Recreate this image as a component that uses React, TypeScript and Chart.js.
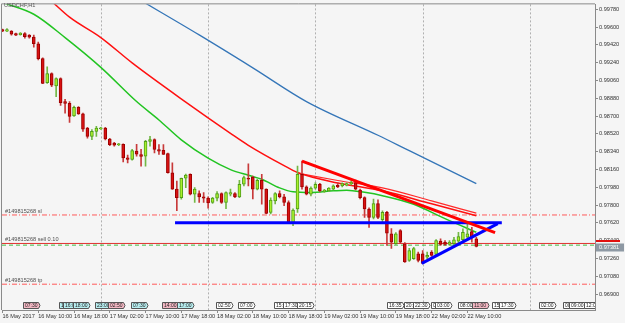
import React, { useEffect, useRef } from 'react';
import { Chart, registerables } from 'chart.js';

Chart.register(...registerables);

// ---- Candles: USDCHF H1, bar 0 = 16 May 2017 02:00 ----
const OPEN = [
  0.99574, 0.99559, 0.99559, 0.99534, 0.99524, 0.99534, 0.99519, 0.99499, 0.99432, 0.99281,
  0.99037, 0.99131, 0.99004, 0.9908, 0.98847, 0.9883, 0.98703, 0.98789, 0.98723, 0.98579,
  0.98495, 0.98545, 0.98571, 0.98579, 0.98468, 0.98428, 0.9841, 0.98415, 0.98278, 0.98262,
  0.98345, 0.98312, 0.98295, 0.98445, 0.98462, 0.98362, 0.98355, 0.98322, 0.98127, 0.97961,
  0.97876, 0.98071, 0.98111, 0.9791, 0.97916, 0.97883, 0.9787, 0.97826, 0.9787, 0.97916,
  0.97826, 0.9791, 0.97916, 0.97883, 0.98011, 0.98071, 0.98084, 0.97961, 0.98051, 0.97961,
  0.97726, 0.97843, 0.97916, 0.97883, 0.97826, 0.97625, 0.9776, 0.98111, 0.97984, 0.9791,
  0.97971, 0.98011, 0.97937, 0.97944, 0.97961, 0.97999, 0.97994, 0.98001, 0.98014, 0.98027,
  0.97951, 0.97876, 0.9776, 0.97676, 0.97816, 0.97653, 0.97726, 0.97509, 0.97409, 0.97542,
  0.97409, 0.97241, 0.97258, 0.97308, 0.97308, 0.97274, 0.97324, 0.97301, 0.97435, 0.97425,
  0.97402, 0.97409, 0.97435, 0.97449, 0.97475, 0.97532, 0.97459,
];
const HIGH = [
  0.99579, 0.99584, 0.99564, 0.99539, 0.99544, 0.99544, 0.99524, 0.99519, 0.99449, 0.99288,
  0.99198, 0.99138, 0.99087, 0.99087, 0.9887, 0.98847, 0.98802, 0.98796, 0.98731, 0.98586,
  0.98563, 0.98596, 0.98586, 0.98586, 0.98475, 0.98435, 0.98425, 0.9842, 0.98305, 0.98365,
  0.98415, 0.98365, 0.98455, 0.98496, 0.9847, 0.98412, 0.98412, 0.98325, 0.98227, 0.98044,
  0.98074, 0.98114, 0.98117, 0.97977, 0.97944, 0.97926, 0.97883, 0.97878, 0.97937, 0.97923,
  0.97933, 0.97961, 0.97926, 0.98051, 0.98094, 0.98217, 0.98094, 0.98064, 0.98111, 0.97964,
  0.97873, 0.97926, 0.97944, 0.9791, 0.97843, 0.97763, 0.98194, 0.98245, 0.97994, 0.97984,
  0.98027, 0.98019, 0.97959, 0.97977, 0.98004, 0.98024, 0.98024, 0.98024, 0.98044, 0.98054,
  0.97961, 0.97883, 0.97773, 0.9786, 0.97853, 0.97743, 0.97736, 0.97562, 0.97522, 0.97552,
  0.97422, 0.97362, 0.97372, 0.97324, 0.97341, 0.97324, 0.97341, 0.97452, 0.97459, 0.97442,
  0.97442, 0.97475, 0.97525, 0.97559, 0.97609, 0.97575, 0.97475,
];
const LOW = [
  0.99554, 0.99554, 0.99519, 0.99514, 0.99519, 0.99489, 0.99489, 0.99398, 0.99268, 0.99027,
  0.9903, 0.98997, 0.98897, 0.98807, 0.98729, 0.98636, 0.98696, 0.98716, 0.98546, 0.98478,
  0.98462, 0.98495, 0.98566, 0.9846, 0.984, 0.98395, 0.984, 0.98237, 0.98227, 0.98255,
  0.98295, 0.98194, 0.98194, 0.98395, 0.98328, 0.98312, 0.98312, 0.98124, 0.97959, 0.97743,
  0.9786, 0.97977, 0.97903, 0.97826, 0.97826, 0.97826, 0.9777, 0.97818, 0.97843, 0.97818,
  0.97763, 0.97893, 0.97876, 0.97876, 0.97994, 0.97994, 0.97863, 0.97954, 0.9781, 0.97713,
  0.9771, 0.97813, 0.97873, 0.97793, 0.97622, 0.97592, 0.97726, 0.97961, 0.97903, 0.97893,
  0.97961, 0.97933, 0.97928, 0.97937, 0.97954, 0.97977, 0.97984, 0.97994, 0.98004, 0.97954,
  0.97863, 0.97676, 0.97575, 0.97659, 0.97662, 0.97612, 0.97392, 0.97362, 0.97402, 0.97412,
  0.97221, 0.97231, 0.97251, 0.97224, 0.97208, 0.97258, 0.97281, 0.97291, 0.97392, 0.97392,
  0.97392, 0.97392, 0.97409, 0.97425, 0.97467, 0.97425, 0.97376,
];
const CLOSE = [
  0.99559, 0.99574, 0.99529, 0.99519, 0.99539, 0.99504, 0.99499, 0.99432, 0.99281, 0.9903,
  0.99131, 0.99014, 0.9908, 0.98837, 0.98827, 0.98696, 0.98789, 0.98723, 0.98569, 0.98495,
  0.98545, 0.98579, 0.98581, 0.98468, 0.98412, 0.98405, 0.9842, 0.98278, 0.98262, 0.98352,
  0.98315, 0.98292, 0.98445, 0.98462, 0.98362, 0.98345, 0.98312, 0.98127, 0.97961, 0.97876,
  0.98071, 0.98104, 0.9791, 0.97961, 0.97883, 0.9787, 0.97823, 0.9787, 0.97916, 0.97826,
  0.97926, 0.97926, 0.97883, 0.98011, 0.98077, 0.98061, 0.97961, 0.98051, 0.97961, 0.97716,
  0.9785, 0.97916, 0.97883, 0.97826, 0.97625, 0.9775, 0.98111, 0.97984, 0.9791, 0.97971,
  0.98011, 0.97944, 0.97951, 0.97971, 0.97994, 0.97984, 0.98017, 0.98017, 0.98027, 0.97961,
  0.97876, 0.9776, 0.97676, 0.97816, 0.97676, 0.97726, 0.97517, 0.97425, 0.97509, 0.97425,
  0.97224, 0.97341, 0.97359, 0.97241, 0.97211, 0.97291, 0.97291, 0.97442, 0.97402, 0.97402,
  0.97425, 0.97449, 0.97482, 0.97525, 0.97509, 0.97475, 0.97381,
];

// ---- Moving averages (bar index, price) ----
const MA_GREEN_IDX = [0, 7, 14, 22, 30, 35, 40, 46, 51, 55, 58, 62, 65, 69, 74, 77, 81, 85, 92, 99, 106];
const MA_GREEN_VAL = [0.99849, 0.9973, 0.99494, 0.99193, 0.98847, 0.98661, 0.9846, 0.98275, 0.98159, 0.98101, 0.98061, 0.97974, 0.97934, 0.97927, 0.97944, 0.97951, 0.97929, 0.97895, 0.97809, 0.97663, 0.97525];
const MA_RED_IDX = [11, 15, 22, 29, 41, 51, 55, 63, 66, 75, 85, 96, 106];
const MA_RED_VAL = [0.9986, 0.997, 0.99494, 0.99238, 0.98842, 0.98526, 0.98405, 0.98199, 0.98129, 0.98024, 0.97944, 0.97813, 0.97693];
const MA_RED2_IDX = [66, 75, 85, 96, 106];
const MA_RED2_VAL = [0.98124, 0.98049, 0.97974, 0.97843, 0.97718];
const MA_BLUE_IDX = [31, 44, 56, 68, 84, 91, 106];
const MA_BLUE_VAL = [0.99868, 0.99521, 0.99188, 0.98847, 0.98506, 0.9835, 0.98017];

// ---- Trend lines (bar index, price) ----
const RED_TREND_IDX = [67, 110.2];
const RED_TREND_VAL = [0.98245, 0.97522];
const BLUE_H_IDX = [38.6, 111.7];
const BLUE_H_VAL = [0.97622, 0.97622];
const BLUE_UP_IDX = [93.8, 110.8];
const BLUE_UP_VAL = [0.97211, 0.97612];

// ---- Order levels ----
const SL_LEVEL = 0.977;
const SELL_LEVEL = 0.97412;
const ASK_LEVEL = 0.97395;
const TP_LEVEL = 0.97;
const BID = 0.97381;
const ORDER_LEVELS = [SL_LEVEL, SELL_LEVEL, TP_LEVEL];
const ORDER_TEXT = ['#149815268 sl', '#149815268 sell 0.10', '#149815268 tp'];

// ---- Axes ----
const PRICE_TICKS = [0.969, 0.9708, 0.9726, 0.9744, 0.9762, 0.978, 0.9798, 0.9816, 0.9834, 0.9852, 0.987, 0.9888, 0.9906, 0.9924, 0.9942, 0.996, 0.9978];
const TIME_TICK_IDX = [0, 8, 16, 24, 32, 40, 48, 56, 64, 72, 80, 88, 96, 104];
const TIME_TICK_LABELS = [
  '16 May 2017', '16 May 10:00', '16 May 18:00', '17 May 02:00', '17 May 10:00', '17 May 18:00',
  '18 May 02:00', '18 May 10:00', '18 May 18:00', '19 May 02:00', '19 May 10:00', '19 May 18:00',
  '22 May 02:00', '22 May 10:00',
];
const DAY_SEP_IDX = [22, 46, 70, 94, 118];

// ---- Calendar event markers ----
const EVENT_IDX = [4.59, 12.64, 13.53, 15.77, 20.69, 23.6, 28.75, 35.68, 39.04, 47.76, 52.68, 60.74, 62.75, 65.88, 86.02, 89.82, 91.83, 95.86, 96.76, 101.9, 105.03, 109.51, 111.07, 120.02, 125.39, 126.73, 130.09];
const EVENT_TEXT = ['07:30', '15:30', '16:00', '18:00', '23:00', '02:50', '07:30', '14:00', '17:00', '02:50', '07:00', '15:30', '17:30', '20:15', '16:35', '20:00', '22:30', '00:00', '03:00', '08:00', '11:00', '15:30', '17:30', '02:00', '00:00', '09:00', '12:00'];
const EVENT_KIND = ['p', 'c', 'c', 'c', 'c', 'p', 'c', 'p', 'c', 'w', 'w', 'w', 'w', 'w', 'w', 'w', 'w', 'w', 'w', 'w', 'p', 'w', 'w', 'w', 'w', 'w', 'w'];

const X_MIN = -0.112;
const X_MAX = 132.55;
const Y_MIN = 0.96739;
const Y_MAX = 0.9983;
const BG = '#f5f5f5';
const FONT = 'Liberation Sans, Arial, sans-serif';

export default function App() {
  const ref = useRef<HTMLCanvasElement>(null);

  useEffect(() => {
    document.body.style.margin = '0';
    const canvas = ref.current;
    if (!canvas) return;

    const bull = OPEN.map((o, i) => CLOSE[i] >= o);
    const wickBull = OPEN.map((_, i) => (bull[i] ? { x: i, y: [LOW[i], HIGH[i]] } : null)).filter(Boolean);
    const wickBear = OPEN.map((_, i) => (!bull[i] ? { x: i, y: [LOW[i], HIGH[i]] } : null)).filter(Boolean);
    const bodies = OPEN.map((o, i) => ({ x: i, y: [o, CLOSE[i]] }));
    const pts = (xs: number[], ys: number[]) => xs.map((x, k) => ({ x, y: ys[k] }));
    const hline = (v: number) => [{ x: X_MIN, y: v }, { x: X_MAX, y: v }];
    const line = (data: any[], color: string, width: number, order: number, extra: any = {}) => ({
      type: 'line', data, borderColor: color, borderWidth: width, pointRadius: 0, fill: false,
      tension: 0, order, ...extra,
    });

    const overlay = {
      id: 'overlay',
      beforeDraw(chart: any) {
        const { ctx, width, height } = chart;
        ctx.save();
        ctx.fillStyle = BG;
        ctx.fillRect(0, 0, width, height);
        ctx.restore();
      },
      beforeDatasetsDraw(chart: any) {
        const { ctx, chartArea: a, scales } = chart;
        ctx.save();
        ctx.strokeStyle = '#b0b0b0';
        ctx.lineWidth = 1;
        ctx.setLineDash([2, 2]);
        for (const s of DAY_SEP_IDX) {
          const px = Math.round(scales.x.getPixelForValue(s)) + 0.5;
          ctx.beginPath();
          ctx.moveTo(px, a.top);
          ctx.lineTo(px, a.bottom);
          ctx.stroke();
        }
        ctx.restore();
      },
      afterDraw(chart: any) {
        const { ctx, chartArea: a, scales } = chart;
        const ys = scales.y;
        const xs = scales.x;
        ctx.save();
        ctx.strokeStyle = '#8a8a8a';
        ctx.lineWidth = 1;
        ctx.beginPath();
        ctx.moveTo(a.left - 0.5, a.bottom);
        ctx.lineTo(a.left - 0.5, a.top - 0.5);
        ctx.lineTo(a.right, a.top - 0.5);
        ctx.stroke();

        ctx.fillStyle = '#555';
        ctx.font = `5.6px ${FONT}`;
        ctx.textBaseline = 'top';
        ctx.textAlign = 'left';
        ctx.fillText('USDCHF,H1', 4, 3);

        ctx.fillStyle = '#505050';
        ctx.textBaseline = 'bottom';
        ORDER_LEVELS.forEach((lv, k) => {
          ctx.fillText(ORDER_TEXT[k], 5, Math.round(ys.getPixelForValue(lv)) - 0.5);
        });

        ctx.save();
        ctx.beginPath();
        ctx.rect(a.left, a.top, a.right - a.left, a.bottom - a.top);
        ctx.clip();
        ctx.font = `5px ${FONT}`;
        ctx.textBaseline = 'middle';
        const top = a.bottom - 7.5;
        const bot = a.bottom - 1.5;
        EVENT_IDX.forEach((ix, k) => {
          const x0 = Math.round(xs.getPixelForValue(ix)) + 0.5;
          const tw = ctx.measureText(EVENT_TEXT[k]).width;
          const w = Math.ceil(tw) + 2;
          ctx.beginPath();
          ctx.moveTo(x0, top);
          ctx.lineTo(x0 + w, top);
          ctx.quadraticCurveTo(x0 + w + 3, (top + bot) / 2, x0 + w, bot);
          ctx.lineTo(x0, bot);
          ctx.closePath();
          ctx.fillStyle = EVENT_KIND[k] === 'p' ? '#f4b8c4' : EVENT_KIND[k] === 'c' ? '#b8eef0' : '#ffffff';
          ctx.fill();
          ctx.strokeStyle = '#555';
          ctx.stroke();
          ctx.fillStyle = '#222';
          ctx.fillText(EVENT_TEXT[k], x0 + 1.5, (top + bot) / 2 + 0.5);
        });
        ctx.restore();

        const yr = ys.getPixelForValue(0.97437);
        ctx.fillStyle = '#e01010';
        ctx.fillRect(a.right + 1, Math.round(yr) - 1, 24, 2);
        const yb = Math.round(ys.getPixelForValue(BID));
        ctx.fillStyle = '#8e99a4';
        ctx.fillRect(a.right + 1, yb - 3.5, 28, 8);
        ctx.fillStyle = '#ffffff';
        ctx.font = `5.6px ${FONT}`;
        ctx.textBaseline = 'middle';
        ctx.fillText(BID.toFixed(5), a.right + 4, yb + 0.5);
        ctx.restore();
      },
    };

    const chart = new Chart(canvas, {
      type: 'bar',
      data: {
        datasets: [
          line(pts(RED_TREND_IDX, RED_TREND_VAL), '#ff0000', 3, 0),
          line(pts(BLUE_H_IDX, BLUE_H_VAL), '#0000ff', 3, 0),
          line(pts(BLUE_UP_IDX, BLUE_UP_VAL), '#0000ff', 3, 0),
          {
            type: 'bar', data: bodies, order: 1, grouped: false, barThickness: 3,
            minBarLength: 1, borderSkipped: false, borderWidth: 1,
            backgroundColor: bull.map((b) => (b ? '#a8f02c' : '#d81212')),
            borderColor: bull.map((b) => (b ? '#4f9c18' : '#9c0000')),
          },
          { type: 'bar', data: wickBull, order: 2, grouped: false, barThickness: 1, borderWidth: 0, backgroundColor: '#72b845' },
          { type: 'bar', data: wickBear, order: 2, grouped: false, barThickness: 1, borderWidth: 0, backgroundColor: '#c83a3a' },
          line(pts(MA_GREEN_IDX, MA_GREEN_VAL), '#22c422', 1.5, 3, { cubicInterpolationMode: 'monotone' }),
          line(pts(MA_RED_IDX, MA_RED_VAL), '#ff1010', 1.5, 3, { cubicInterpolationMode: 'monotone' }),
          line(pts(MA_RED2_IDX, MA_RED2_VAL), '#ff2a2a', 1.2, 3, { cubicInterpolationMode: 'monotone' }),
          line(pts(MA_BLUE_IDX, MA_BLUE_VAL), '#3576b8', 1.3, 3, { cubicInterpolationMode: 'monotone' }),
          line(hline(SL_LEVEL), '#ff5a5a', 1, 4, { borderDash: [5, 2, 1, 2] }),
          line(hline(TP_LEVEL), '#ff5a5a', 1, 4, { borderDash: [5, 2, 1, 2] }),
          line(hline(SELL_LEVEL), '#e03030', 1, 4),
          line(hline(ASK_LEVEL), '#44bb44', 1, 4, { borderDash: [4, 3] }),
        ] as any,
      },
      options: {
        animation: false,
        responsive: false,
        devicePixelRatio: 1,
        events: [],
        layout: { padding: { left: 2, top: 2, right: 0, bottom: 0 } },
        plugins: { legend: { display: false }, tooltip: { enabled: false } },
        scales: {
          x: {
            type: 'linear', position: 'bottom', min: X_MIN, max: X_MAX, offset: false,
            afterBuildTicks: (s: any) => { s.ticks = TIME_TICK_IDX.map((v) => ({ value: v })); },
            afterFit: (s: any) => { s.height = 13; },
            grid: { drawOnChartArea: false, tickLength: 3, color: '#8a8a8a', offset: false },
            border: { color: '#8a8a8a' },
            ticks: {
              autoSkip: false, maxRotation: 0, minRotation: 0, align: 'start', padding: 0,
              color: '#333', font: { family: FONT, size: 5.6 },
              callback: (v: any) => { const k = TIME_TICK_IDX.indexOf(Number(v)); return k >= 0 ? TIME_TICK_LABELS[k] : ''; },
            },
          },
          y: {
            type: 'linear', position: 'right', min: Y_MIN, max: Y_MAX, beginAtZero: false,
            afterBuildTicks: (s: any) => { s.ticks = PRICE_TICKS.map((v) => ({ value: v })); },
            afterFit: (s: any) => { s.width = 30; },
            grid: { drawOnChartArea: false, tickLength: 3, color: '#8a8a8a' },
            border: { color: '#8a8a8a' },
            ticks: {
              autoSkip: false, padding: 1, color: '#333', font: { family: FONT, size: 5.6 },
              callback: (v: any) => Number(v).toFixed(5),
            },
          },
        },
      } as any,
      plugins: [overlay],
    });

    return () => chart.destroy();
  }, []);

  return (
    <div style={{ width: 625, height: 323 }}>
      <canvas ref={ref} width={625} height={323} style={{ display: 'block', width: 625, height: 323 }} />
    </div>
  );
}
